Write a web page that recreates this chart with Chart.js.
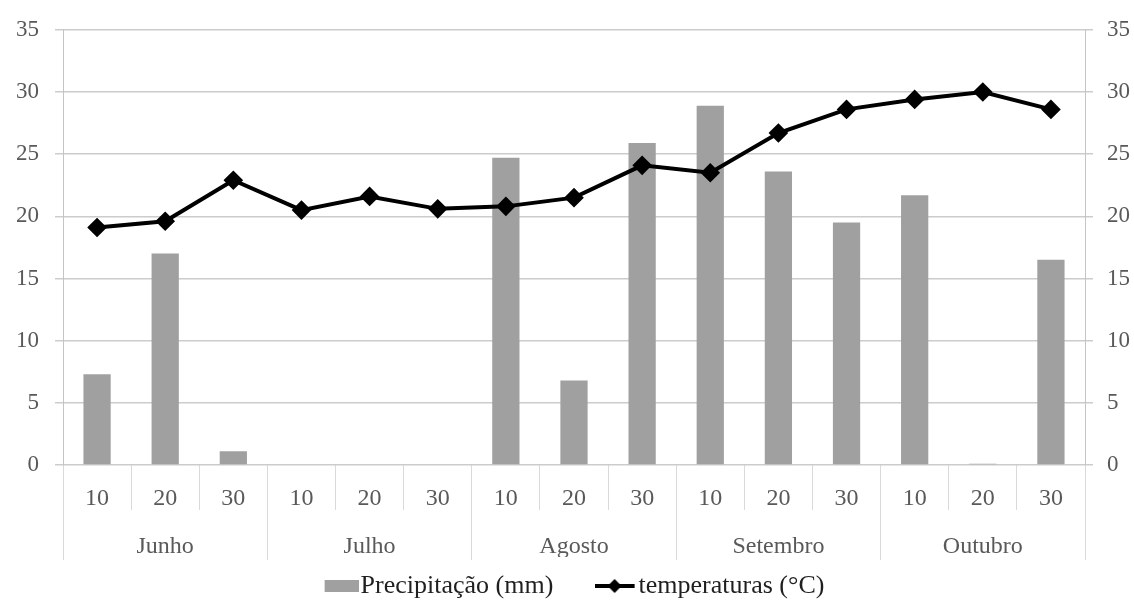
<!DOCTYPE html>
<html>
<head>
<meta charset="utf-8">
<script src="https://cdn.jsdelivr.net/npm/chart.js@4/dist/chart.umd.min.js"></script>
<style>
  html, body { margin: 0; padding: 0; background: #ffffff; }
  #wrap { width: 1134px; height: 600px; }
</style>
</head>
<body>
<div id="wrap"><canvas id="c" width="1134" height="600"></canvas></div>
<script>
// Ten-day periods within each month
const days = ['10', '20', '30', '10', '20', '30', '10', '20', '30', '10', '20', '30', '10', '20', '30'];
const months = ['Junho', 'Julho', 'Agosto', 'Setembro', 'Outubro'];
// Rainfall per period (mm)
const precipitacao = [7.3, 17.0, 1.1, 0, 0, 0, 24.7, 6.8, 25.9, 28.9, 23.6, 19.5, 21.7, 0.1, 16.5];
// Mean temperature per period (°C)
const temperaturas = [19.1, 19.6, 22.9, 20.5, 21.6, 20.6, 20.8, 21.5, 24.1, 23.5, 26.7, 28.6, 29.4, 30.0, 28.6];
const yTicks = [0, 5, 10, 15, 20, 25, 30, 35];

const SERIF = "'Liberation Serif', 'Times New Roman', serif";
const BAR_COLOR = '#a0a0a0';
const TEXT_GREY = '#595959';

// Legend swatches: a grey block and a line with a diamond marker
function barSwatch() {
  const c = document.createElement('canvas');
  c.width = 86; c.height = 14;
  const g = c.getContext('2d');
  g.fillStyle = BAR_COLOR;
  g.fillRect(52, 1, 34, 12);
  return c;
}
function lineSwatch() {
  const c = document.createElement('canvas');
  c.width = 50; c.height = 16;
  const g = c.getContext('2d');
  g.strokeStyle = '#000'; g.lineWidth = 4;
  g.beginPath(); g.moveTo(0, 8); g.lineTo(40, 8); g.stroke();
  g.fillStyle = '#000';
  g.beginPath(); g.moveTo(20, 1); g.lineTo(27, 8); g.lineTo(20, 15); g.lineTo(13, 8); g.closePath(); g.fill();
  return c;
}

new Chart(document.getElementById('c'), {
  data: {
    labels: days,
    datasets: [
      {
        type: 'bar',
        label: 'Precipitação (mm)',
        data: precipitacao,
        backgroundColor: BAR_COLOR,
        barPercentage: 0.4,
        categoryPercentage: 1.0,
        yAxisID: 'y',
        order: 2
      },
      {
        type: 'line',
        label: 'temperaturas (°C)',
        data: temperaturas,
        borderColor: '#000000',
        backgroundColor: '#000000',
        borderWidth: 4,
        pointStyle: 'rectRot',
        pointRadius: 7,
        pointHoverRadius: 7,
        tension: 0,
        yAxisID: 'y1',
        order: 1
      }
    ]
  },
  options: {
    responsive: false,
    animation: false,
    layout: { padding: { left: 0, right: 0, top: 25, bottom: 0 } },
    plugins: {
      tooltip: { enabled: false },
      legend: {
        position: 'bottom',
        maxHeight: 43,
        labels: {
          usePointStyle: true,
          pointStyleWidth: 12,
          padding: 16,
          color: '#1f1f1f',
          font: { family: SERIF, size: 26 },
          generateLabels: () => [
            { text: '\u2003Precipitação (mm)\u2003\u2002\u2009', pointStyle: barSwatch(), fillStyle: BAR_COLOR, strokeStyle: BAR_COLOR, lineWidth: 0, hidden: false, datasetIndex: 0, fontColor: '#1f1f1f' },
            { text: 'temperaturas (°C)', pointStyle: lineSwatch(), fillStyle: '#000', strokeStyle: '#000', lineWidth: 0, hidden: false, datasetIndex: 1, fontColor: '#1f1f1f' }
          ]
        }
      }
    },
    scales: {
      x: {
        type: 'category',
        position: 'bottom',
        offset: true,
        grid: { offset: true, drawOnChartArea: false, tickLength: 45, color: '#d9d9d9', lineWidth: 1 },
        border: { display: false },
        afterFit: (s) => { s.height = 45; },
        ticks: {
          autoSkip: false, maxRotation: 0, padding: -23,
          color: TEXT_GREY,
          font: { family: SERIF, size: 24, lineHeight: 1 }
        }
      },
      x2: {
        type: 'category',
        position: 'bottom',
        labels: months,
        offset: true,
        grid: { offset: true, drawOnChartArea: false, tickLength: 50, color: '#d9d9d9', lineWidth: 1 },
        border: { display: false },
        afterFit: (s) => { s.height = 47; },
        ticks: {
          autoSkip: false, maxRotation: 0, padding: -25,
          color: TEXT_GREY,
          font: { family: SERIF, size: 24, lineHeight: 1 }
        }
      },
      y: {
        position: 'left',
        min: 0, max: 35,
        afterBuildTicks: (s) => { s.ticks = yTicks.map(v => ({ value: v })); },
        afterFit: (s) => { s.width = 63; },
        grid: { color: '#cccccc', lineWidth: 1.5, tickLength: 8 },
        border: { display: true, color: '#c4c4c4', width: 1 },
        ticks: { padding: 16, color: TEXT_GREY, font: { family: SERIF, size: 23 } }
      },
      y1: {
        position: 'right',
        min: 0, max: 35,
        afterBuildTicks: (s) => { s.ticks = yTicks.map(v => ({ value: v })); },
        afterFit: (s) => { s.width = 49; },
        grid: { drawOnChartArea: false, color: '#cccccc', lineWidth: 1.5, tickLength: 8 },
        border: { display: true, color: '#c4c4c4', width: 1 },
        ticks: { padding: 14, color: TEXT_GREY, font: { family: SERIF, size: 23 } }
      }
    }
  }
});
</script>
</body>
</html>
